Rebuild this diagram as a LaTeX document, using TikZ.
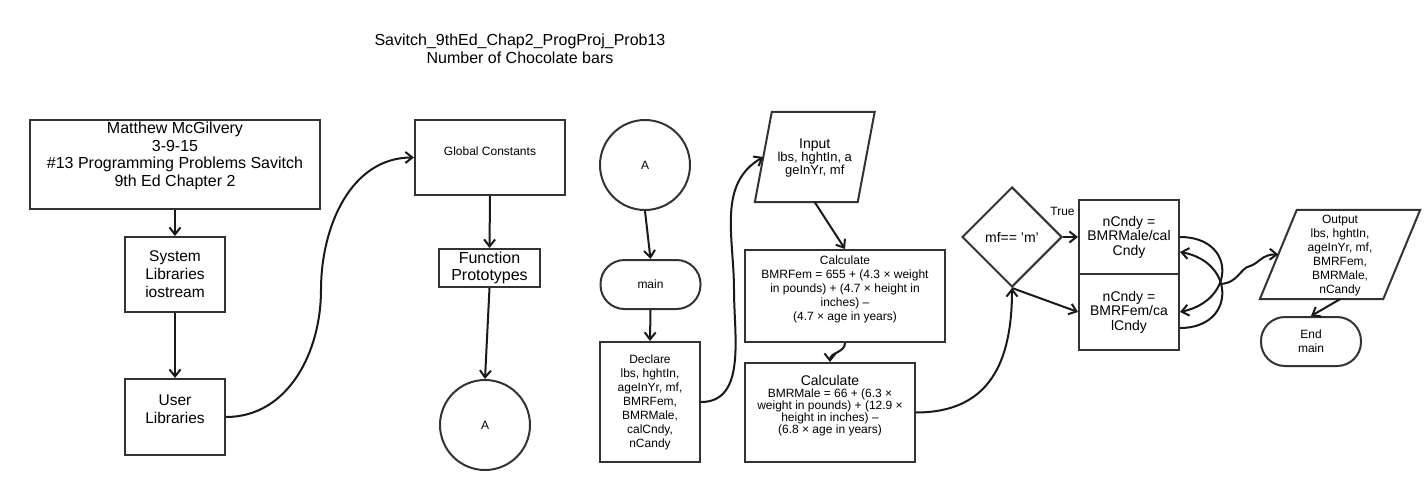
\documentclass[tikz,border=0pt]{standalone}
\usepackage{fontspec}
\setmainfont{Liberation Sans}
\usetikzlibrary{arrows.meta,shapes.geometric,calc}
\newcommand\fsA{\fontsize{12}{14}\selectfont}
\newcommand\fsB{\fontsize{13}{14.5}\selectfont}
\newcommand\fsC{\fontsize{14}{14.5}\selectfont}
\newcommand\fsD{\fontsize{15.5}{18}\selectfont}
\newcommand\fsE{\fontsize{16}{17.7}\selectfont}
\tikzset{
  shapeline/.style={draw=black!80, line width=2pt},
  boxnode/.style={shapeline, rectangle, inner sep=0pt, align=center},
  ghost/.style={rectangle, inner sep=0pt, align=center},
  txt/.style={inner sep=0pt, align=center},
  termnode/.style={shapeline, rectangle, rounded corners=24pt, inner sep=0pt, align=center, minimum width=100pt, minimum height=49pt},
  circnode/.style={shapeline, circle, inner sep=0pt, minimum size=90pt, font=\fsA},
  decnode/.style={shapeline, diamond, inner sep=0pt, minimum width=100pt, minimum height=100pt, font=\fsC},
  conn/.style={draw=black!90, line width=2pt, -{Straight Barb[length=7pt,width=11pt]}}
}
\begin{document}
\begin{tikzpicture}[x=1pt,y=-1pt]
\useasboundingbox (0,0) rectangle (1425,490);
\fill[white] (0,0) rectangle (1425,490);

% heading
\node[txt, font=\fsE] (head) at (520,48.5) {Savitch\_9thEd\_Chap2\_ProgProj\_Prob13\\Number of Chocolate bars};

% left column
\node[boxnode, minimum width=290pt, minimum height=89pt] (tb) at (175,164.5) {};
\node[txt, font=\fsE] (tbt) at (175,156) {Matthew McGilvery\\3-9-15\\\#13 Programming Problems Savitch\\9th Ed Chapter 2};
\node[boxnode, minimum width=100pt, minimum height=75pt, font=\fsD] (sys) at (175,274.5) {System\\Libraries\\iostream};
\node[boxnode, minimum width=100pt, minimum height=76pt] (usr) at (175,417) {};
\node[txt, font=\fsD] (usrt) at (175,409) {User\\Libraries};

% second column
\node[boxnode, minimum width=150pt, minimum height=75pt] (gc) at (490,157.5) {};
\node[txt, font=\fsA] (gct) at (490,151) {Global Constants};
\node[boxnode, minimum width=101pt, minimum height=38pt, font=\fsE] (fp) at (489.5,268) {Function\\Prototypes};
\node[circnode] (a1) at (485,425) {A};

% third column
\node[circnode] (a2) at (645,165) {A};
\node[termnode, font=\fsA] (main) at (650.5,284.5) {main};
\node[boxnode, minimum width=100pt, minimum height=120pt, font=\fsA] (decl) at (650,402) {Declare\\lbs, hghtIn,\\ageInYr, mf,\\BMRFem,\\BMRMale,\\calCndy,\\nCandy};

% input parallelogram
\node[ghost, minimum width=102.5pt, minimum height=90pt] (inp) at (814.75,157) {};
\draw[shapeline] ($(inp.north west)+(8.5,0)$) -- ($(inp.north east)+(8.5,0)$) -- ($(inp.south east)+(-8.5,0)$) -- ($(inp.south west)+(-8.5,0)$) -- cycle;
\node[txt] (inpt) at (814.75,158) {\fsC Input\\\fsB lbs, hghtIn, a\\\fsB geInYr, mf};

% calculations
\node[boxnode, minimum width=200pt, minimum height=92pt] (c1) at (845,296) {};
\node[txt, font=\fsA] (c1t) at (845,289) {Calculate\\BMRFem = 655 + (4.3 × weight\\in pounds) + (4.7 × height in\\inches) –\\(4.7 × age in years)};
\node[boxnode, minimum width=170pt, minimum height=99pt] (c2) at (830,412.5) {};
\node[txt] (c2t) at (830,406) {\fsC Calculate\\\fsA BMRMale = 66 + (6.3 ×\\\fsA weight in pounds) + (12.9 ×\\\fsA height in inches) –\\\fsA (6.8 × age in years)};

% decision
\node[decnode] (dec) at (1012,237) {mf== 'm'};
\node[txt, font=\fsA] (truel) at (1062.5,211) {True};
\node[boxnode, minimum width=100pt, minimum height=74pt, font=\fsC] (male) at (1129,237) {nCndy =\\BMRMale/cal\\Cndy};
\node[boxnode, minimum width=100pt, minimum height=76pt, font=\fsC] (fem) at (1129,312) {nCndy =\\BMRFem/ca\\lCndy};

% output parallelogram
\node[ghost, minimum width=123pt, minimum height=89pt] (outp) at (1340,254.5) {};
\draw[shapeline] ($(outp.north west)+(18.5,0)$) -- ($(outp.north east)+(18.5,0)$) -- ($(outp.south east)+(-18.5,0)$) -- ($(outp.south west)+(-18.5,0)$) -- cycle;
\node[txt, font=\fsA] (outpt) at (1340,255.5) {Output\\lbs, hghtIn,\\ageInYr, mf,\\BMRFem,\\BMRMale,\\nCandy};
\node[termnode, font=\fsA] (endm) at (1311,341.5) {End\\main};

% connectors
\draw[conn] (tb.south) -- (sys.north);
\draw[conn] (sys.south) -- (usr.north);
\coordinate (um) at (321,290);
\draw[conn] (usr.east) to[out=0,in=-90] (um) to[out=90,in=180] (gc.west);
\draw[conn] (gc.south) -- (fp.north);
\draw[conn] (fp.south) -- (a1.north);
\draw[conn] (a2.south) -- (main.north);
\draw[conn] (main.south) -- (decl.north);
\coordinate (dm) at (734,290);
\draw[conn] (decl.east) to[out=0,in=-90] (dm) to[out=90,in=210] (inp.west);
\draw[conn] (inp.south) -- (c1.north);
\draw[conn] (c1.south) to[out=-90,in=90] (c2.north);
\draw[conn] (c2.east) to[out=0,in=-90,looseness=1.2] (dec.south);
\draw[conn] (dec.east) -- (male.west);
\draw[conn] (dec.south) -- (fem.west);
\draw[conn] (male.east) .. controls +(56,0) and +(56,-12) .. (fem.east);
\draw[conn] ($(fem.east)+(0,16)$) .. controls +(56,0) and +(56,10) .. ($(male.east)+(0,15)$);
\coordinate (jn) at (1219,284);
\coordinate (wv) at (1250,266);
\draw[conn] (jn) .. controls (1238,284) and (1240,268) .. (wv) .. controls (1258,264) and (1262,254) .. (outp.west);
\draw[conn] (outp.south) -- (endm.north);
\end{tikzpicture}
\end{document}
